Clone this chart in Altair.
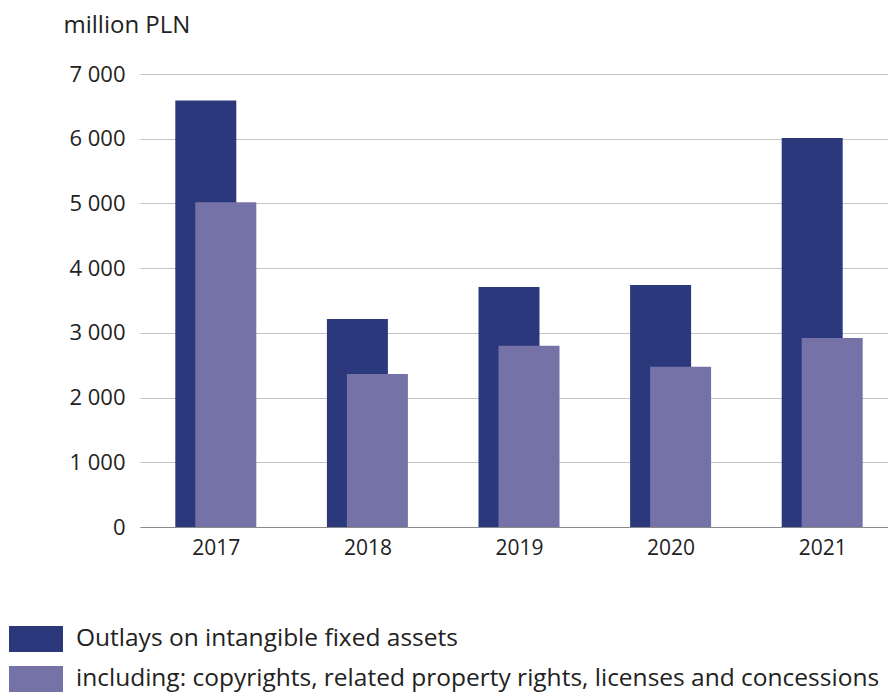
import altair as alt
import pandas as pd

years = [2017, 2018, 2019, 2020, 2021]
outlays = [6590, 3215, 3710, 3740, 6010]
licences = [5020, 2365, 2800, 2475, 2920]
series_names = [
    "Outlays on intangible fixed assets",
    "including: copyrights, related property rights, licenses and concessions",
]
colors = ["#2b387c", "#7472a7"]
y_ticks = [0, 1000, 2000, 3000, 4000, 5000, 6000, 7000]

df = pd.DataFrame({
    "year": years * 2,
    "value": outlays + licences,
    "series": [series_names[0]] * 5 + [series_names[1]] * 5,
})

FONT = "Open Sans"
TXT = "#222222"

color = alt.Color(
    "series:N",
    scale=alt.Scale(domain=series_names, range=colors),
    sort=series_names,
    legend=alt.Legend(
        title=None,
        orient="none",
        legendX=-131,
        legendY=538,
        direction="vertical",
        symbolType="M-1,-0.48H1V0.48H-1Z",
        symbolSize=2916,
        symbolStrokeWidth=0,
        symbolOpacity=1,
        labelFontSize=24.5,
        labelFont=FONT,
        labelColor=TXT,
        labelOffset=13,
        labelLimit=900,
        rowPadding=-8,
        padding=0,
    ),
)

x = alt.X(
    "year:Q",
    scale=alt.Scale(domain=[2016.5, 2021.434], nice=False, zero=False, padding=0),
    axis=alt.Axis(
        values=years, format="d", title=None, grid=False, ticks=False,
        labelPadding=10, domainColor="#8a8a8a", domainWidth=1,
        labelFontSize=21, labelFont=FONT, labelColor=TXT,
    ),
)
y = alt.Y(
    "value:Q",
    scale=alt.Scale(domain=[0, 7000], nice=False),
    axis=alt.Axis(
        values=y_ticks,
        labelExpr="replace(format(datum.value, ',d'), ',', ' ')",
        title="million PLN", titleAngle=0, titleAlign="left",
        titleX=-77, titleY=-42, titleBaseline="alphabetic",
        titleFontSize=24, titleFont=FONT, titleColor=TXT, titleFontWeight="normal",
        domain=False, ticks=False, labelPadding=15,
        labelFontSize=22, labelFont=FONT, labelColor=TXT,
        gridColor="#c4c4c4", gridWidth=1,
    ),
)

base = alt.Chart(df).encode(x=x, y=y, color=color)
dark = base.transform_filter(alt.datum.series == series_names[0]).mark_bar(size=61, xOffset=-10)
light = base.transform_filter(alt.datum.series == series_names[1]).mark_bar(size=61, xOffset=10)

chart = (
    alt.layer(dark, light)
    .properties(
        width=748, height=453,
        autosize=alt.AutoSizeParams(type="none"),
        padding={"left": 132, "top": 66, "right": 0, "bottom": 172},
    )
    .configure_view(stroke=None)
)

chart.save("out.html", embed_options={"renderer": "svg", "actions": False})
